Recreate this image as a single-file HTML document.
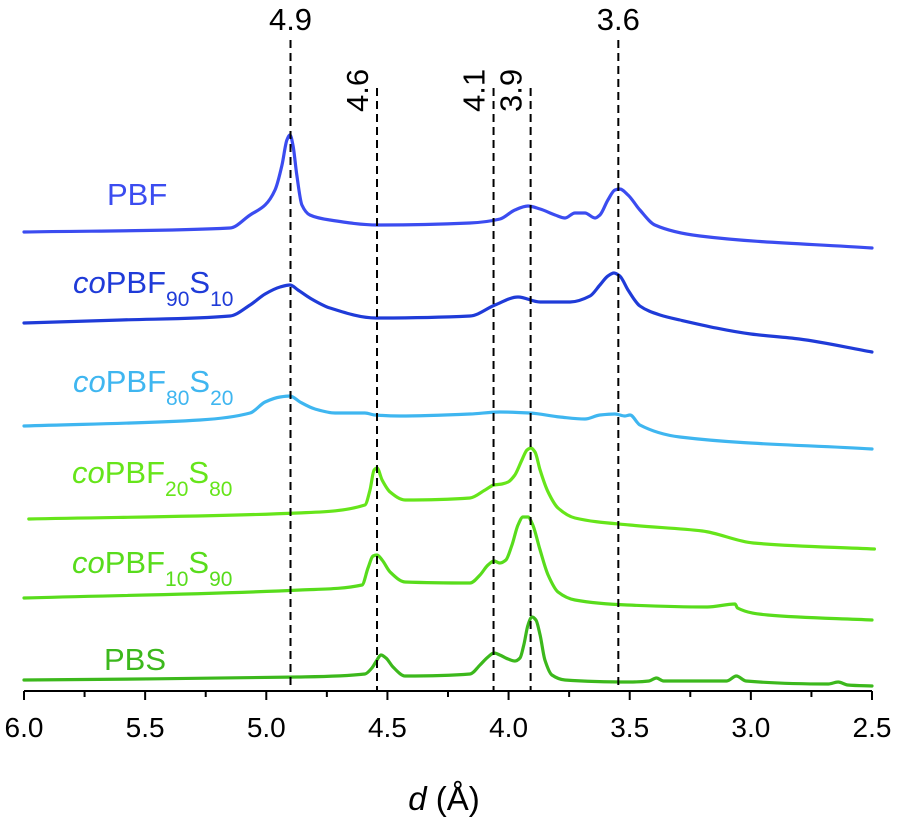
<!DOCTYPE html>
<html><head><meta charset="utf-8"><style>
html,body{margin:0;padding:0;background:#fff;}
svg{display:block;font-family:"Liberation Sans",Arial,sans-serif;}
</style></head><body>
<svg id="chart" width="897" height="821" viewBox="0 0 897 821" xmlns="http://www.w3.org/2000/svg">
<g id="series"></g>
<g id="refs"></g>
<g id="axis"></g>
<g id="labels">
<text x="107" y="205" font-size="31" fill="#3b4cf0">PBF</text>
<text x="73" y="293" font-size="31" fill="#1f3bd8"><tspan font-style="italic">co</tspan>PBF<tspan font-size="21" dy="13">90</tspan><tspan dy="-13">S</tspan><tspan font-size="21" dy="13">10</tspan></text>
<text x="73" y="392" font-size="31" fill="#3fb6f0"><tspan font-style="italic">co</tspan>PBF<tspan font-size="21" dy="13">80</tspan><tspan dy="-13">S</tspan><tspan font-size="21" dy="13">20</tspan></text>
<text x="72" y="483" font-size="31" fill="#66e51a"><tspan font-style="italic">co</tspan>PBF<tspan font-size="21" dy="13">20</tspan><tspan dy="-13">S</tspan><tspan font-size="21" dy="13">80</tspan></text>
<text x="72" y="573" font-size="31" fill="#58dc1c"><tspan font-style="italic">co</tspan>PBF<tspan font-size="21" dy="13">10</tspan><tspan dy="-13">S</tspan><tspan font-size="21" dy="13">90</tspan></text>
<text x="104" y="670" font-size="31" fill="#3cb81c">PBS</text>
</g>
<text x="444" y="810" font-size="33" text-anchor="middle"><tspan font-style="italic">d</tspan> (Å)</text>
</svg>
<script>
// axis: d from 6.0 (left) to 2.5 (right); intensity in arbitrary units (offset stacked)
const xTicks = [6.0, 5.5, 5.0, 4.5, 4.0, 3.5, 3.0, 2.5];
const xTickLabels = ["6.0","5.5","5.0","4.5","4.0","3.5","3.0","2.5"];
const refD = [4.9, 4.543, 4.062, 3.909, 3.547];
const refLabels = ["4.9","4.6","4.1","3.9","3.6"];
const pbfD = [6.0,5.15,5.067,5.005,4.964,4.935,4.915,4.902,4.89,4.874,4.853,4.82,4.737,4.54,4.16,4.035,3.974,3.92,3.87,3.808,3.767,3.726,3.685,3.643,3.623,3.59,3.561,3.541,3.507,3.458,3.396,3.21,2.5];
const pbfI = [459,463,476,486,501,526,551,556,546,516,486,476,471,466,468,472,481,485,482,476,473,478,478,473,476,491,501,502,496,481,466,455,443];
const p90D = [6.0,5.6,5.15,5.067,5.005,4.943,4.902,4.869,4.82,4.737,4.547,4.159,4.056,3.961,3.87,3.746,3.664,3.623,3.59,3.565,3.541,3.507,3.458,3.375,3.293,3.0,2.8,2.5];
const p90I = [368,371,375,386,397,404,406,401,393,383,373,375,386,394,389,389,395,406,415,418,415,401,385,376,371,357,352,339];
const p80D = [6.0,5.274,5.067,5.005,4.943,4.902,4.861,4.799,4.716,4.593,4.552,4.449,4.159,4.036,3.912,3.788,3.685,3.623,3.561,3.52,3.499,3.458,3.293,2.5];
const p80I = [265,271,278,289,294,295,289,282,278,278,276,275,277,279,278,274,272,276,277,275,276,266,254,242];
const p20D = [5.98,4.87,4.593,4.572,4.555,4.543,4.522,4.489,4.427,4.159,4.097,4.06,4.027,4.002,3.974,3.945,3.924,3.908,3.891,3.87,3.837,3.796,3.726,3.5,3.2,2.99,2.49];
const p20I = [172,178,186,201,221,223,211,199,191,193,201,206,207,209,216,231,241,243,239,221,199,183,173,166,160,148,142];
const p10D = [6.0,4.86,4.605,4.580,4.559,4.543,4.522,4.489,4.427,4.159,4.118,4.085,4.06,4.036,4.011,3.986,3.961,3.941,3.92,3.9,3.87,3.837,3.796,3.726,3.51,3.18,3.065,3.055,2.93,2.5];
const p10I = [93,101,106,123,135,136,131,119,109,108,116,126,130,128,131,146,166,174,174,166,141,116,99,91,86,84,87,83,76,71];
const pbsD = [6.0,4.87,4.593,4.564,4.543,4.527,4.506,4.477,4.427,4.159,4.118,4.085,4.06,4.036,4.002,3.974,3.953,3.937,3.92,3.903,3.887,3.87,3.85,3.821,3.767,3.5,3.42,3.39,3.36,3.1,3.06,3.02,2.68,2.64,2.6,2.5];
const pbsI = [11,14,17,23,31,36,33,24,15,17,26,34,38,36,32,30,33,46,66,74,71,56,31,16,11,9,10,13,10,10,15,10,7,9,6,5];

const NS = "http://www.w3.org/2000/svg";
const X0 = 24, X1 = 872, AXY = 691;
function xScale(d){ return X0 + (6.0 - d) * (X1 - X0) / 3.5; }
function yScale(v){ return AXY - v; }

// monotone cubic (Fritsch-Carlson) in x
function smoothPath(pts){
  const n = pts.length;
  const dx = [], m = [], t = [];
  for (let i=0;i<n-1;i++){ dx[i] = pts[i+1][0]-pts[i][0]; m[i] = (pts[i+1][1]-pts[i][1])/dx[i]; }
  t[0] = m[0]; t[n-1] = m[n-2];
  for (let i=1;i<n-1;i++){
    if (m[i-1]*m[i] <= 0) t[i] = 0;
    else { const w1 = 2*dx[i]+dx[i-1], w2 = dx[i]+2*dx[i-1]; t[i] = (w1+w2)/(w1/m[i-1]+w2/m[i]); }
  }
  let s = 'M' + pts[0][0].toFixed(1) + ',' + pts[0][1].toFixed(1);
  for (let i=0;i<n-1;i++){
    const h = dx[i]/3;
    s += ' C' + (pts[i][0]+h).toFixed(1)+','+(pts[i][1]+t[i]*h).toFixed(1)+' '+(pts[i+1][0]-h).toFixed(1)+','+(pts[i+1][1]-t[i+1]*h).toFixed(1)+' '+pts[i+1][0].toFixed(1)+','+pts[i+1][1].toFixed(1);
  }
  return s;
}

const seriesG = document.getElementById('series');
function addSeries(ds, is, color, name){
  const pts = ds.map((d,i)=>[xScale(d), yScale(is[i])]);
  const p = document.createElementNS(NS, 'path');
  p.setAttribute('d', smoothPath(pts));
  p.setAttribute('fill','none');
  p.setAttribute('stroke',color);
  p.setAttribute('stroke-width','3.2');
  p.setAttribute('stroke-linejoin','round');
  p.setAttribute('stroke-linecap','round');
  
  
  seriesG.appendChild(p);
}
addSeries(pbfD, pbfI, '#3b4cf0', 'series-pbf');
addSeries(p90D, p90I, '#1f3bd8', 'series-copbf90s10');
addSeries(p80D, p80I, '#3fb6f0', 'series-copbf80s20');
addSeries(p20D, p20I, '#66e51a', 'series-copbf20s80');
addSeries(p10D, p10I, '#58dc1c', 'series-copbf10s90');
addSeries(pbsD, pbsI, '#3cb81c', 'series-pbs');

const refsG = document.getElementById('refs');
refD.forEach((d,i)=>{
  const x = xScale(d);
  const tall = (i===0 || i===4);
  const top = tall ? 40 : 88;
  const l = document.createElementNS(NS,'line');
  l.setAttribute('x1',x); l.setAttribute('x2',x);
  l.setAttribute('y1',top); l.setAttribute('y2',AXY);
  l.setAttribute('stroke','#000'); l.setAttribute('stroke-width','2');
  l.setAttribute('stroke-dasharray','8,5');
  
  
  refsG.appendChild(l);
  const t = document.createElementNS(NS,'text');
  t.textContent = refLabels[i];
  t.setAttribute('font-size','31');
  if (tall){
    t.setAttribute('x',x); t.setAttribute('y',30); t.setAttribute('text-anchor','middle');
  } else {
    const tx = x - 9, ty = 112;
    t.setAttribute('x',tx); t.setAttribute('y',ty);
    t.setAttribute('transform','rotate(-90 '+tx+' '+ty+')');
  }
  
  
  refsG.appendChild(t);
});

const axisG = document.getElementById('axis');
const al = document.createElementNS(NS,'line');
al.setAttribute('x1',X0); al.setAttribute('x2',X1); al.setAttribute('y1',AXY); al.setAttribute('y2',AXY);
al.setAttribute('stroke','#000'); al.setAttribute('stroke-width','2');


axisG.appendChild(al);
for (let k=0;k<xTicks.length;k++){
  const x = xScale(xTicks[k]);
  const tk = document.createElementNS(NS,'line');
  tk.setAttribute('x1',x); tk.setAttribute('x2',x); tk.setAttribute('y1',AXY); tk.setAttribute('y2',AXY+9);
  tk.setAttribute('stroke','#000'); tk.setAttribute('stroke-width','2');
  
  
  axisG.appendChild(tk);
  if (k < xTicks.length-1){
    const xm = xScale(xTicks[k]-0.25);
    const mt = document.createElementNS(NS,'line');
    mt.setAttribute('x1',xm); mt.setAttribute('x2',xm); mt.setAttribute('y1',AXY); mt.setAttribute('y2',AXY+6);
    mt.setAttribute('stroke','#000'); mt.setAttribute('stroke-width','2');
    
    
    axisG.appendChild(mt);
  }
  const t = document.createElementNS(NS,'text');
  t.textContent = xTickLabels[k];
  t.setAttribute('x', Math.min(Math.max(x, 22), 875)); t.setAttribute('y',737);
  t.setAttribute('font-size','28'); t.setAttribute('text-anchor','middle');
  
  
  axisG.appendChild(t);
}
</script>
</body></html>
